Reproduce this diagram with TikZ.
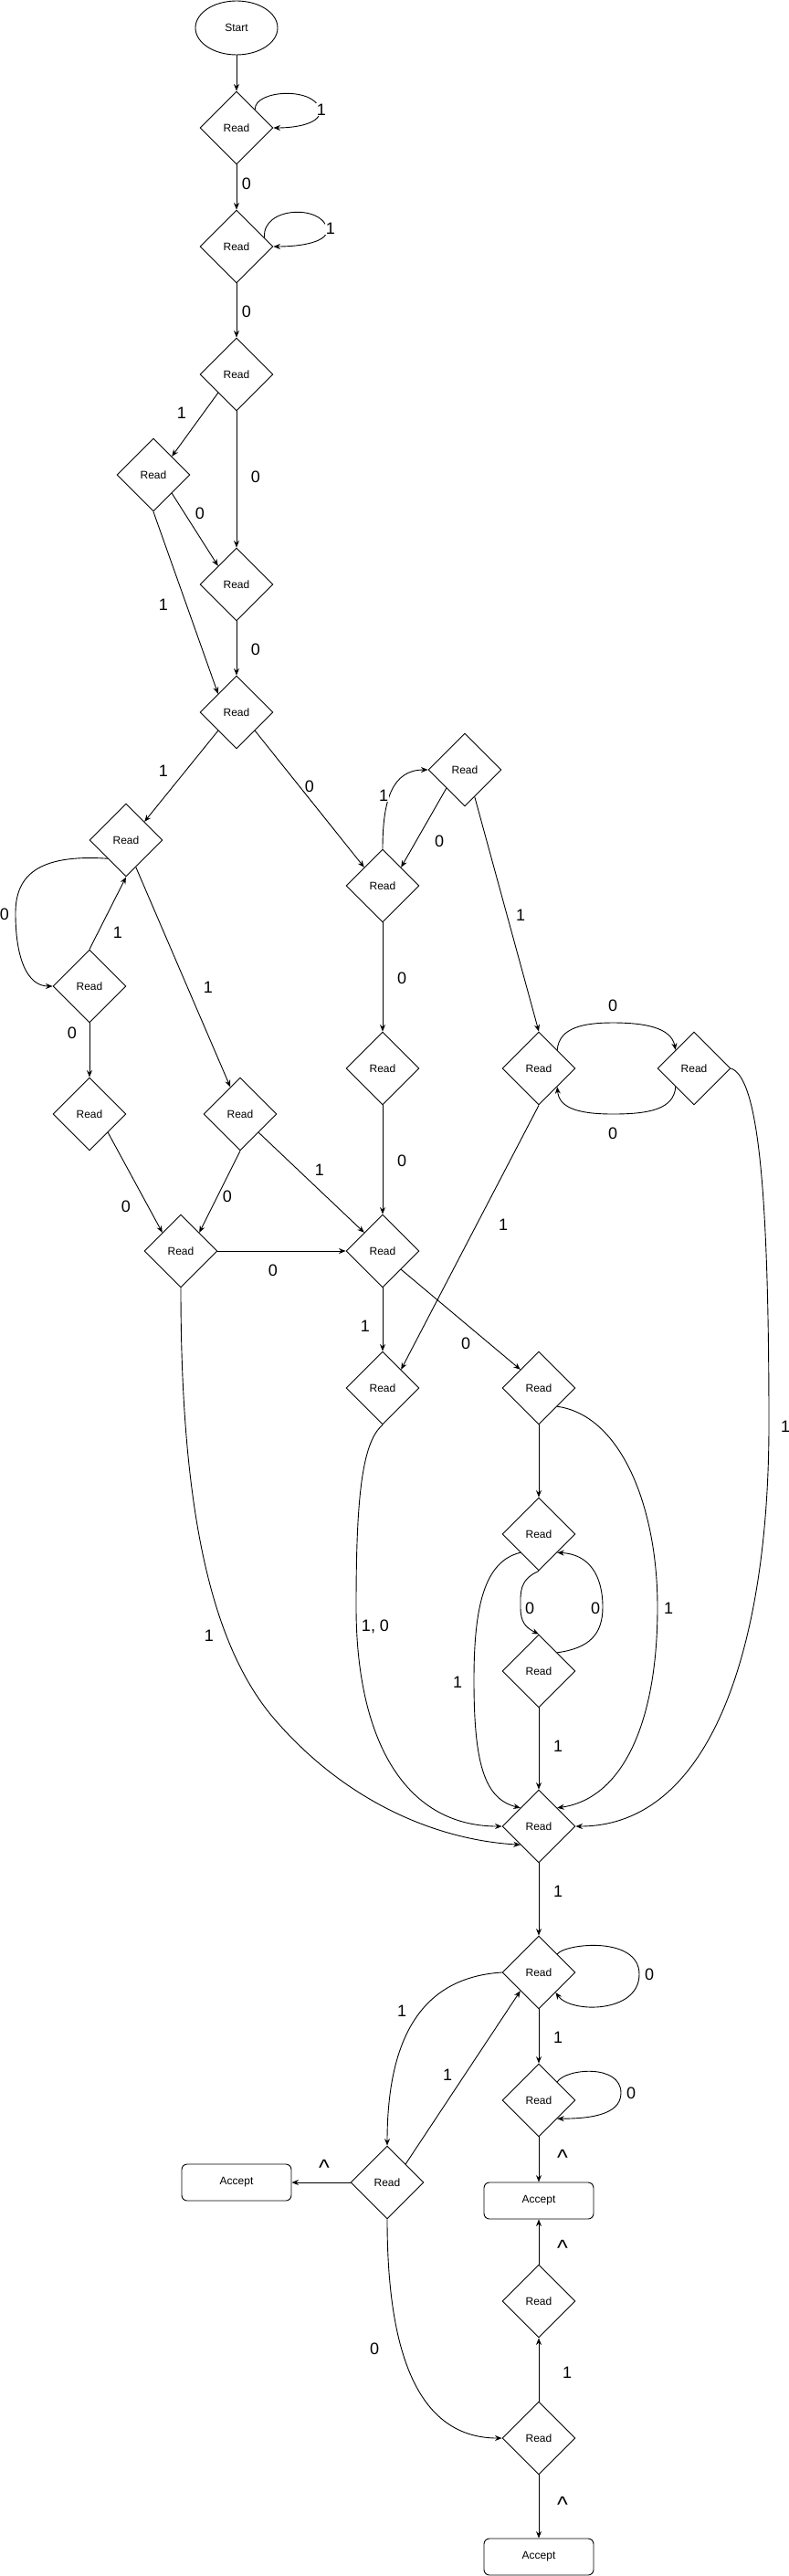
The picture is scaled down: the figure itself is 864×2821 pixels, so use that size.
\documentclass[tikz,border=0pt]{standalone}
\usepackage{fontspec}
\setmainfont{Liberation Sans}
\usetikzlibrary{shapes.geometric,arrows.meta}
\begin{document}
\begin{tikzpicture}[x=1pt,y=-1pt,
  dia/.style={diamond,draw,line width=0.9pt,minimum width=80pt,minimum height=80pt,inner sep=0pt,aspect=1,font=\fontsize{12}{14}\selectfont},
  acc/.style={rectangle,rounded corners=6pt,draw,line width=0.9pt,minimum width=120pt,minimum height=40pt,font=\fontsize{12}{14}\selectfont},
  startn/.style={ellipse,draw,line width=0.9pt,minimum width=90pt,minimum height=59pt,font=\fontsize{12}{14}\selectfont},
  arr/.style={line width=0.9pt,-{Stealth[length=7.5pt,width=6pt,inset=2.5pt]}},
  lbl/.style={font=\fontsize{18}{20}\selectfont,inner sep=1pt},
  lblw/.style={lbl,fill=white},
  caret/.style={font=\fontsize{25}{26}\selectfont,inner sep=0pt}
]
\useasboundingbox (0,0) rectangle (864,2821);

% nodes
\node[startn] (S) at (259,30.5) {Start};
\node[dia] (D1) at (259,140) {Read};
\node[dia] (D2) at (259,270) {Read};
\node[dia] (D3) at (259,410) {Read};
\node[dia] (D4) at (168,520) {Read};
\node[dia] (D5) at (259,640) {Read};
\node[dia] (D6) at (259,780) {Read};
\node[dia] (D7) at (138,920) {Read};
\node[dia] (D8) at (419,970) {Read};
\node[dia] (D9) at (509,843) {Read};
\node[dia] (D10) at (590,1170) {Read};
\node[dia] (D11) at (98,1080) {Read};
\node[dia] (D12) at (263,1220) {Read};
\node[dia] (D13) at (98,1220) {Read};
\node[dia] (D14) at (419,1170) {Read};
\node[dia] (D15) at (760,1170) {Read};
\node[dia] (D16) at (198,1370) {Read};
\node[dia] (D18) at (419,1370) {Read};
\node[dia] (D19) at (419,1520) {Read};
\node[dia] (D21) at (590,1520) {Read};
\node[dia] (D22) at (590,1680) {Read};
\node[dia] (D23) at (590,1830) {Read};
\node[dia] (D20) at (590,2000) {Read};
\node[dia] (D24) at (590,2160) {Read};
\node[dia] (D25) at (590,2300) {Read};
\node[dia] (D26) at (424,2390) {Read};
\node[dia] (D27) at (590,2520) {Read};
\node[dia] (D28) at (590,2670) {Read};
\node[acc] (A1) at (259,2390) {Accept};
\node[acc] (A2) at (590,2410) {Accept};
\node[acc] (A3) at (590,2800) {Accept};

% edges
\draw[arr] (S.south) -- (D1.north);
\draw[arr] (D1.north east) .. controls (279,98) and (345,95) .. (350,120) .. controls (353,135) and (325,140) .. (D1.east) node[lblw] at (352,120) {1};
\draw[arr] (D1.south) -- (D2.north) node[lbl] at (270,201) {0};
\draw[arr] (D2.18) .. controls (287,226) and (352,224) .. (358,250) .. controls (361,265) and (330,270) .. (D2.east) node[lblw] at (362,250) {1};
\draw[arr] (D2.south) -- (D3.north) node[lbl] at (270,341) {0};
\draw[arr] (D3.south west) -- (D4.north east) node[lbl] at (199,452) {1};
\draw[arr] (D3.south) -- (D5.north) node[lbl] at (280,522) {0};
\draw[arr] (D4.south east) -- (D5.north west) node[lbl] at (219,562) {0};
\draw[arr] (D4.south) -- (D6.north west) node[lbl] at (179,662) {1};
\draw[arr] (D5.south) -- (D6.north) node[lbl] at (280,711) {0};
\draw[arr] (D6.south west) -- (D7.north east) node[lbl] at (179,844) {1};
\draw[arr] (D6.south east) -- (D8.north west) node[lbl] at (339,861) {0};
\draw[arr] (D8.north) .. controls (419,875) and (430,843) .. (D9.west) node[lblw] at (420,871) {1};
\draw[arr] (D9.south west) -- (D8.north east) node[lbl] at (481,921) {0};
\draw[arr] (D9.-70) -- (D10.north) node[lbl] at (570,1002) {1};
\draw[arr] (D7.south west) .. controls (40,935) and (17,960) .. (17,1000) .. controls (17,1050) and (30,1080) .. (D11.west) node[lbl] at (5,1001) {0};
\draw[arr] (D11.north) -- (D7.south) node[lbl] at (129,1021) {1};
\draw[arr] (D7.-70) -- (D12.110) node[lbl] at (228,1081) {1};
\draw[arr] (D11.south) -- (D13.north) node[lbl] at (79,1131) {0};
\draw[arr] (D8.south) -- (D14.north) node[lbl] at (440,1071) {0};
\draw[arr] (D10.north east) .. controls (612,1125) and (640,1120) .. (671,1120) .. controls (705,1120) and (735,1125) .. (D15.north west) node[lbl] at (671,1101) {0};
\draw[arr] (D15.south west) .. controls (738,1215) and (710,1220) .. (671,1220) .. controls (630,1220) and (612,1212) .. (D10.south east) node[lbl] at (671,1241) {0};
\draw[arr] (D14.south) -- (D18.north) node[lbl] at (440,1271) {0};
\draw[arr] (D13.south east) -- (D16.north west) node[lbl] at (138,1321) {0};
\draw[arr] (D12.south) -- (D16.north east) node[lbl] at (249,1310) {0};
\draw[arr] (D12.south east) -- (D18.north west) node[lbl] at (350,1281) {1};
\draw[arr] (D10.south) -- (D19.north east) node[lbl] at (551,1341) {1};
\draw[arr] (D16.east) -- (D18.west) node[lbl] at (299,1391) {0};
\draw[arr] (D18.south) -- (D19.north) node[lbl] at (400,1452) {1};
\draw[arr] (D18.south east) -- (D21.north west) node[lbl] at (510,1471) {0};
\draw[arr] (D15.east) .. controls (830,1180) and (842,1300) .. (842,1560) .. controls (842,1800) and (780,2000) .. (D20.east) node[lbl] at (860,1562) {1};
\draw[arr] (D16.south) .. controls (198,1650) and (230,1800) .. (300,1882) .. controls (380,1975) and (480,2015) .. (D20.south west) node[lbl] at (229,1791) {1};
\draw[arr] (D19.south) .. controls (395,1580) and (390,1650) .. (390,1760) .. controls (390,1900) and (440,2000) .. (D20.west) node[lbl] at (411,1781) {1, 0};
\draw[arr] (D21.south) -- (D22.north);
\draw[arr] (D21.south east) .. controls (680,1550) and (720,1650) .. (720,1760) .. controls (720,1890) and (680,1970) .. (D20.north east) node[lbl] at (732,1761) {1};
\draw[arr] (D22.south) .. controls (568,1730) and (570,1745) .. (570,1760) .. controls (570,1776) and (575,1782) .. (D23.north) node[lbl] at (580,1761) {0};
\draw[arr] (D23.north east) .. controls (645,1805) and (660,1790) .. (660,1760) .. controls (660,1725) and (645,1702) .. (D22.south east) node[lbl] at (652,1761) {0};
\draw[arr] (D22.south west) .. controls (530,1710) and (519,1760) .. (519,1840) .. controls (519,1930) and (530,1970) .. (D20.north west) node[lbl] at (501,1842) {1};
\draw[arr] (D23.south) -- (D20.north) node[lbl] at (611,1912) {1};
\draw[arr] (D20.south) -- (D24.north) node[lbl] at (611,2071) {1};
\draw[arr] (D24.north east) .. controls (620,2128) and (700,2120) .. (700,2162) .. controls (700,2205) and (625,2205) .. (D24.-50) node[lbl] at (711,2162) {0};
\draw[arr] (D24.south) -- (D25.north) node[lbl] at (611,2231) {1};
\draw[arr] (D25.north east) .. controls (620,2265) and (680,2260) .. (680,2292) .. controls (680,2318) and (640,2320) .. (D25.south east) node[lbl] at (691,2292) {0};
\draw[arr] (D24.west) .. controls (470,2165) and (424,2220) .. (D26.north) node[lbl] at (440,2202) {1};
\draw[arr] (D26.north east) -- (D24.south west) node[lbl] at (490,2272) {1};
\draw[arr] (D26.west) -- (A1.east) node[caret] at (355,2374) {\textasciicircum};
\draw[arr] (D25.south) -- (A2.north) node[caret] at (616,2363) {\textasciicircum};
\draw[arr] (D27.north) -- (A2.south) node[caret] at (616,2462) {\textasciicircum};
\draw[arr] (D28.north) -- (D27.south) node[lbl] at (621,2598) {1};
\draw[arr] (D26.south) .. controls (424,2560) and (450,2670) .. (D28.west) node[lbl] at (410,2572) {0};
\draw[arr] (D28.south) -- (A3.north) node[caret] at (616,2743) {\textasciicircum};
\end{tikzpicture}
\end{document}
